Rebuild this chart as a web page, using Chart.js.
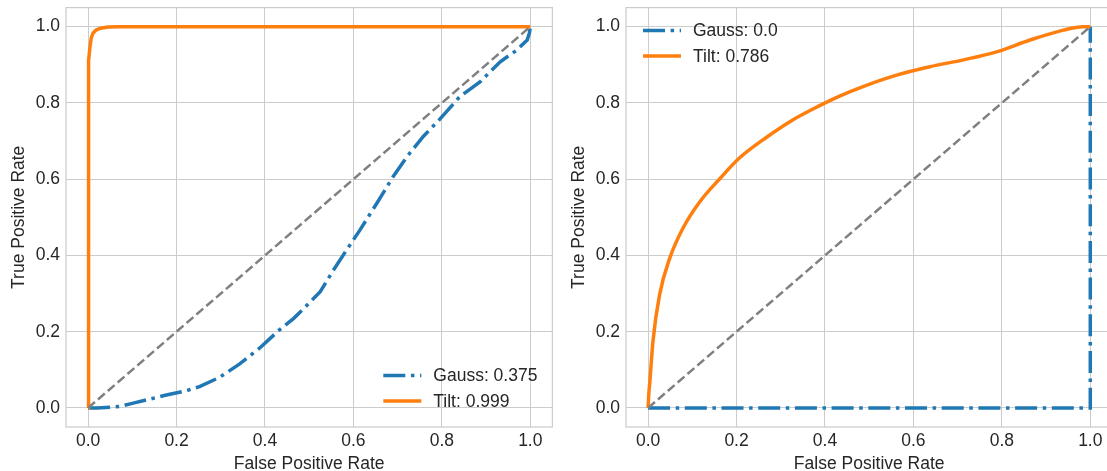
<!DOCTYPE html>
<html>
<head>
<meta charset="utf-8">
<script src="https://cdn.jsdelivr.net/npm/chart.js@4"></script>
<style>
html, body { margin: 0; padding: 0; background: #fff; overflow: hidden; width: 1107px; height: 471px; }
.box { position: absolute; top: 0; width: 560px; height: 471px; }
</style>
</head>
<body>
<div class="box" style="left:0"><canvas id="leftChart" width="560" height="471"></canvas></div>
<div class="box" style="left:560px"><canvas id="rightChart" width="560" height="471"></canvas></div>
<script>
// values
const tickValues = [0, 0.2, 0.4, 0.6, 0.8, 1.0];
const xTitle = "False Positive Rate";
const yTitle = "True Positive Rate";

const diagFpr = [0, 1];
const diagTpr = [0, 1];

// left panel
const leftGaussLabel = "Gauss: 0.375";
const leftGaussFpr = [0, 0.02, 0.05, 0.072, 0.1, 0.132, 0.177, 0.222, 0.252, 0.297, 0.342, 0.387, 0.432, 0.465, 0.487, 0.525, 0.555, 0.585, 0.615, 0.653, 0.69, 0.721, 0.758, 0.796, 0.841, 0.887, 0.932, 0.97, 0.993, 0.998, 1.0];
const leftGaussTpr = [0, 0.0, 0.002, 0.004, 0.012, 0.021, 0.034, 0.045, 0.056, 0.08, 0.115, 0.156, 0.204, 0.235, 0.26, 0.305, 0.362, 0.415, 0.467, 0.537, 0.607, 0.659, 0.712, 0.758, 0.817, 0.856, 0.908, 0.939, 0.965, 0.983, 1.0];
const leftTiltLabel = "Tilt: 0.999";
const leftTiltFpr = [0, 0, 0.001, 0.002, 0.004, 0.007, 0.011, 0.018, 0.028, 0.045, 0.07, 0.12, 1.0];
const leftTiltTpr = [0, 0.6, 0.85, 0.91, 0.945, 0.97, 0.983, 0.991, 0.996, 0.999, 1.0, 1.0, 1.0];

// right panel
const rightGaussLabel = "Gauss: 0.0";
const rightGaussFpr = [0, 1, 1];
const rightGaussTpr = [0, 0, 1];
const rightTiltLabel = "Tilt: 0.786";
const rightTiltFpr = [0, 0.0015, 0.004, 0.011, 0.026, 0.049, 0.079, 0.117, 0.162, 0.207, 0.268, 0.328, 0.388, 0.433, 0.486, 0.562, 0.637, 0.713, 0.788, 0.864, 0.939, 0.984, 1.0];
const rightTiltTpr = [0, 0.035, 0.07, 0.175, 0.297, 0.393, 0.472, 0.541, 0.601, 0.656, 0.71, 0.756, 0.793, 0.818, 0.843, 0.873, 0.895, 0.913, 0.934, 0.965, 0.991, 1.0, 1.0];

const BLUE = "#1f77b4";
const ORANGE = "#ff7f0e";
const TEXT = "#262626";
const GRID = "#cccccc";
const FONT = '"Liberation Sans", Arial, sans-serif';
const FONT_SIZE = 17.5;

function pts(xs, ys) {
  return xs.map((x, i) => ({ x: x, y: ys[i] }));
}

// frame round the plot area, like matplotlib spines
const frame = {
  id: "frame",
  beforeDatasetsDraw(chart) {
    const { ctx, chartArea: a } = chart;
    ctx.save();
    ctx.strokeStyle = GRID;
    ctx.lineWidth = 1.25;
    ctx.strokeRect(a.left, a.top, a.right - a.left, a.bottom - a.top);
    ctx.restore();
  }
};

// legend drawn inside the plot area
const insideLegend = {
  id: "insideLegend",
  afterDatasetsDraw(chart, args, opts) {
    const { ctx, chartArea: a } = chart;
    const items = chart.data.datasets.filter(d => d.inLegend);
    ctx.save();
    ctx.font = FONT_SIZE + "px " + FONT;
    ctx.textBaseline = "middle";
    const textW = Math.max(...items.map(d => ctx.measureText(d.label).width));
    let x0, y0;
    if (opts.corner === "lowerRight") {
      x0 = a.right - 15 - textW - 50;
      y0 = a.bottom - 51.5;
    } else {
      x0 = a.left + 17;
      y0 = a.top + 23;
    }
    items.forEach((d, i) => {
      const y = y0 + i * 25.5;
      ctx.strokeStyle = d.borderColor;
      ctx.lineWidth = d.borderWidth;
      ctx.lineCap = "butt";
      ctx.setLineDash(d.borderDash || []);
      ctx.beginPath();
      ctx.moveTo(x0, y);
      ctx.lineTo(x0 + 38, y);
      ctx.stroke();
      ctx.setLineDash([]);
      ctx.fillStyle = TEXT;
      ctx.fillText(d.label, x0 + 50, y + 1);
    });
    ctx.restore();
  }
};

function axis(titleText, isX) {
  return {
    type: "linear",
    min: -0.05,
    max: 1.05,
    grid: { color: GRID, lineWidth: 1, drawTicks: false },
    border: { display: false },
    ticks: {
      color: TEXT,
      font: { family: FONT, size: FONT_SIZE },
      padding: isX ? 4 : 6,
      callback: v => v.toFixed(1)
    },
    title: {
      display: true,
      text: titleText,
      color: TEXT,
      font: { family: FONT, size: FONT_SIZE },
      padding: isX ? { top: 0, bottom: -4 } : { top: 9, bottom: 0 }
    },
    afterBuildTicks: s => { s.ticks = tickValues.map(v => ({ value: v })); },
    afterFit: s => {
      // labels sit inside the margins, no extra room needed
      s.paddingTop = 0; s.paddingBottom = 0; s.paddingLeft = 0; s.paddingRight = 0;
      if (isX) s.height = 44; else s.width = 66;
    }
  };
}

function makeChart(id, gauss, tilt, corner, tiltSmooth) {
  new Chart(document.getElementById(id), {
    type: "line",
    data: {
      datasets: [
        {
          label: gauss.label, inLegend: true,
          data: pts(gauss.fpr, gauss.tpr),
          borderColor: BLUE, borderWidth: 3.5,
          borderDash: [22, 5.6, 3.5, 5.6],
          pointRadius: 0, tension: 0, order: 3
        },
        {
          label: tilt.label, inLegend: true,
          data: pts(tilt.fpr, tilt.tpr),
          borderColor: ORANGE, borderWidth: 3.5,
          pointRadius: 0, tension: 0,
          cubicInterpolationMode: tiltSmooth ? "monotone" : "default",
          order: 2
        },
        {
          label: "chance", inLegend: false,
          data: pts(diagFpr, diagTpr),
          borderColor: "#808080", borderWidth: 2.5,
          borderDash: [9, 4],
          pointRadius: 0, tension: 0, order: 1
        }
      ]
    },
    options: {
      responsive: false,
      animation: false,
      layout: { padding: { top: 7.6, right: 7.6, left: 0, bottom: 0 } },
      plugins: {
        legend: { display: false },
        tooltip: { enabled: false },
        insideLegend: { corner: corner }
      },
      scales: {
        x: axis(xTitle, true),
        y: axis(yTitle, false)
      }
    },
    plugins: [frame, insideLegend]
  });
}

makeChart("leftChart",
  { label: leftGaussLabel, fpr: leftGaussFpr, tpr: leftGaussTpr },
  { label: leftTiltLabel, fpr: leftTiltFpr, tpr: leftTiltTpr },
  "lowerRight", false);

makeChart("rightChart",
  { label: rightGaussLabel, fpr: rightGaussFpr, tpr: rightGaussTpr },
  { label: rightTiltLabel, fpr: rightTiltFpr, tpr: rightTiltTpr },
  "upperLeft", true);
</script>
</body>
</html>
